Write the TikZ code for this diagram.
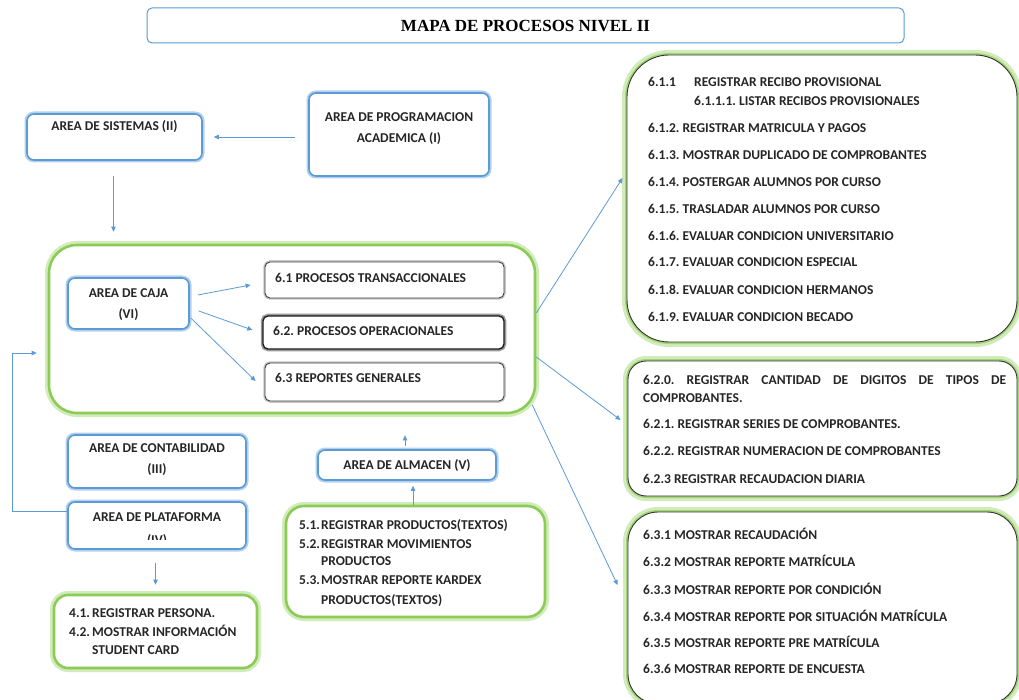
\documentclass[tikz,border=0pt]{standalone}
\usepackage{fontspec}
\setmainfont{Carlito}
\newfontfamily\titlefont{Liberation Serif}
\usetikzlibrary{arrows.meta,calc}
\frenchspacing

\definecolor{edgeblue}{HTML}{5B9BD5}
\definecolor{glowblue}{HTML}{B4D0EE}
\definecolor{edgegreen}{HTML}{8CCB55}
\definecolor{glowgreen}{HTML}{D2EBBB}
\definecolor{ink}{HTML}{262626}

\tikzset{
  areabox/.style={draw=edgeblue, line width=1.6pt, fill=white, rounded corners=7pt,
    inner sep=0pt, preaction={draw=glowblue, line width=5pt, rounded corners=7pt}},
  groupbox/.style={draw=edgegreen, line width=2.6pt, fill=white, rounded corners=#1,
    inner sep=0pt, preaction={draw=glowgreen, line width=8pt, rounded corners=#1}},
  listbox/.style={draw=black!80, line width=0.9pt, fill=white, rounded corners=#1,
    inner sep=0pt,
    preaction={draw=glowgreen, line width=10pt, rounded corners=#1},
    preaction={draw=edgegreen!80, line width=4pt, rounded corners=#1}},
  procbox/.style={draw=black!75, line width=0.9pt, fill=white, rounded corners=5pt,
    inner sep=0pt, preaction={draw=black!22, line width=3.5pt, rounded corners=5pt}},
  titlebox/.style={draw=edgeblue, line width=1pt, fill=white, rounded corners=5pt, inner sep=0pt},
  txt/.style={font=\bfseries\fontsize{13.5}{15}\selectfont, text=ink, inner sep=0pt,
    text height=8.7pt, text depth=0pt},
  ltxt/.style={txt, anchor=west},
  arr/.style={draw=edgeblue, line width=0.8pt, -{Triangle[length=5pt,width=4.5pt]}},
}

\begin{document}
\begin{tikzpicture}[x=1pt,y=-1pt]
\useasboundingbox (0,0) rectangle (1019,700);
\fill[white] (0,0) rectangle (1019,700);

% heading
\node[titlebox, minimum width=757pt, minimum height=35pt] (title) at (525.5,25.5) {};
\node[font=\titlefont\bfseries\fontsize{17}{19}\selectfont, text=black, inner sep=0pt]
  (titletext) at (525.5,26) {MAPA DE PROCESOS NIVEL II};

% upper areas
\node[areabox, minimum width=175pt, minimum height=46pt] (sis) at (114.5,137) {};
\node[txt] (sistext) at (114.5,126) {AREA DE SISTEMAS (II)};
\node[areabox, minimum width=180pt, minimum height=83pt] (prog) at (399,134.5) {};
\node[txt] (progtext1) at (399,117) {AREA DE PROGRAMACION};
\node[txt] (progtext2) at (399,138) {ACADEMICA (I)};

% cash area group
\node[groupbox=28pt, minimum width=486pt, minimum height=168pt] (big) at (292,329) {};
\node[areabox, minimum width=121pt, minimum height=51pt] (caja) at (128.5,303.5) {};
\node[txt] (cajatext1) at (128.5,293) {AREA DE CAJA};
\node[txt] (cajatext2) at (128.5,314) {(VI)};
\node[procbox, minimum width=239pt, minimum height=36pt] (p61) at (384.5,280) {};
\node[ltxt] (p61text) at (275,278) {6.1 PROCESOS TRANSACCIONALES};
\node[procbox, draw=black!90, line width=1.3pt, minimum width=241pt, minimum height=33pt,
  preaction={draw=black!40, line width=4.5pt, rounded corners=5pt}] (p62) at (383.5,332.5) {};
\node[ltxt] (p62text) at (273,331) {6.2. PROCESOS OPERACIONALES};
\node[procbox, minimum width=239pt, minimum height=38pt] (p63) at (384.5,382) {};
\node[ltxt] (p63text) at (275,378) {6.3 REPORTES GENERALES};

% lower areas
\node[areabox, minimum width=178pt, minimum height=53pt] (contab) at (157,461.5) {};
\node[txt] (contabtext1) at (157,448) {AREA DE CONTABILIDAD};
\node[txt] (contabtext2) at (157,469) {(III)};
\node[areabox, minimum width=178pt, minimum height=47pt] (plat) at (157,525.5) {};
\node[txt] (plattext1) at (157,517) {AREA DE PLATAFORMA};
\begin{scope}
  \clip (68,502) rectangle (246,539);
  \node[txt] (plattext2) at (157,540) {(IV)};
\end{scope}
\node[groupbox=14pt, minimum width=203pt, minimum height=73pt] (p4) at (155.5,631.5) {};
\node[ltxt] (p4a) at (69,613) {\makebox[23pt][l]{4.1.}REGISTRAR PERSONA.};
\node[ltxt] (p4b) at (69,632) {\makebox[23pt][l]{4.2.}MOSTRAR INFORMACIÓN};
\node[ltxt] (p4c) at (69,650) {\hspace*{23pt}STUDENT CARD};

\node[areabox, minimum width=178pt, minimum height=30pt] (alm) at (407,465) {};
\node[txt] (almtext) at (407,465) {AREA DE ALMACEN (V)};
\node[groupbox=18pt, minimum width=259pt, minimum height=111pt] (p5) at (415.5,561.5) {};
\node[ltxt] (p5a) at (299,525) {\makebox[22pt][l]{5.1.}REGISTRAR PRODUCTOS(TEXTOS)};
\node[ltxt] (p5b) at (299,544) {\makebox[22pt][l]{5.2.}REGISTRAR MOVIMIENTOS};
\node[ltxt] (p5c) at (299,561) {\hspace*{22pt}PRODUCTOS};
\node[ltxt] (p5d) at (299,580) {\makebox[22pt][l]{5.3.}MOSTRAR REPORTE KARDEX};
\node[ltxt] (p5e) at (299,600) {\hspace*{22pt}PRODUCTOS(TEXTOS)};

% detail lists
\node[listbox=42pt, minimum width=390pt, minimum height=287pt] (r1) at (822,198.5) {};
\node[ltxt] (r1a) at (648,82) {\makebox[46pt][l]{6.1.1}REGISTRAR RECIBO PROVISIONAL};
\node[ltxt] (r1b) at (694,101) {6.1.1.1. LISTAR RECIBOS PROVISIONALES};
\node[ltxt] (r1c) at (648,128) {6.1.2. REGISTRAR MATRICULA Y PAGOS};
\node[ltxt] (r1d) at (648,155) {6.1.3. MOSTRAR DUPLICADO DE COMPROBANTES};
\node[ltxt] (r1e) at (648,182) {6.1.4. POSTERGAR ALUMNOS POR CURSO};
\node[ltxt] (r1f) at (648,209) {6.1.5. TRASLADAR ALUMNOS POR CURSO};
\node[ltxt] (r1g) at (648,236) {6.1.6. EVALUAR CONDICION UNIVERSITARIO};
\node[ltxt] (r1h) at (648,262) {6.1.7. EVALUAR CONDICION ESPECIAL};
\node[ltxt] (r1i) at (648,290) {6.1.8. EVALUAR CONDICION HERMANOS};
\node[ltxt] (r1j) at (648,317) {6.1.9. EVALUAR CONDICION BECADO};

\node[listbox=18pt, minimum width=389pt, minimum height=135pt] (r2) at (822.5,428.5) {};
\node[ltxt] (r2a) at (643,380) {\makebox[363pt][s]{6.2.0. REGISTRAR CANTIDAD DE DIGITOS DE TIPOS DE}};
\node[ltxt] (r2b) at (643,398) {COMPROBANTES.};
\node[ltxt] (r2c) at (643,424) {6.2.1. REGISTRAR SERIES DE COMPROBANTES.};
\node[ltxt] (r2d) at (643,451) {6.2.2. REGISTRAR NUMERACION DE COMPROBANTES};
\node[ltxt] (r2e) at (643,479) {6.2.3 REGISTRAR RECAUDACION DIARIA};

\node[listbox=30pt, minimum width=389pt, minimum height=192pt] (r3) at (822.5,608) {};
\node[ltxt] (r3a) at (643,535) {6.3.1 MOSTRAR RECAUDACIÓN};
\node[ltxt] (r3b) at (643,562) {6.3.2 MOSTRAR REPORTE MATRÍCULA};
\node[ltxt] (r3c) at (643,590) {6.3.3 MOSTRAR REPORTE POR CONDICIÓN};
\node[ltxt] (r3d) at (643,617) {6.3.4 MOSTRAR REPORTE POR SITUACIÓN MATRÍCULA};
\node[ltxt] (r3e) at (643,643) {6.3.5 MOSTRAR REPORTE PRE MATRÍCULA};
\node[ltxt] (r3f) at (643,669) {6.3.6 MOSTRAR REPORTE DE ENCUESTA};

% connectors
\draw[arr, shorten <=13pt, shorten >=11pt] (prog.west |- sis.east) -- (sis.east);
\coordinate (sisfoot) at ($(sis.south)+(-1,0)$);
\draw[arr, shorten <=15pt, shorten >=12pt] (sisfoot) -- (sisfoot |- big.north);

\draw[arr] ($(caja.east)+(8,-8.5)$) -- ($(p61.west)+(-14,5)$);
\draw[arr] ($(caja.east)+(9,7.5)$) -- ($(p62.west)+(-10,-2.5)$);
\draw[arr] ($(caja.east)+(1,14.5)$) -- ($(p63.west)+(-9,-1)$);

\draw[arr] ($(plat.west)+(0,-14.5)$) -| ($(big.west)+(-35,24)$) -- ($(big.west)+(-11,24)$);
\draw[arr, shorten <=13pt, shorten >=9pt] (p4.north |- plat.south) -- (p4.north);

\coordinate (almtop) at ($(alm.north)+(-2,0)$);
\draw[arr, shorten <=3pt, shorten >=21pt] (almtop) -- (almtop |- big.south);
\coordinate (almfoot) at ($(alm.south)+(6,0)$);
\draw[arr, shorten >=5pt] (almfoot |- p5.north) -- (almfoot);

\draw[arr] ($(big.east)+(0,-16)$) -- ($(r1.west)+(-4,-20.5)$);
\draw[arr] ($(big.east)+(0,28)$) -- ($(r2.west)+(-7,-8.5)$);
\draw[arr] ($(big.east)+(-4,76)$) -- ($(r3.west)+(-10,-23)$);
\end{tikzpicture}
\end{document}
